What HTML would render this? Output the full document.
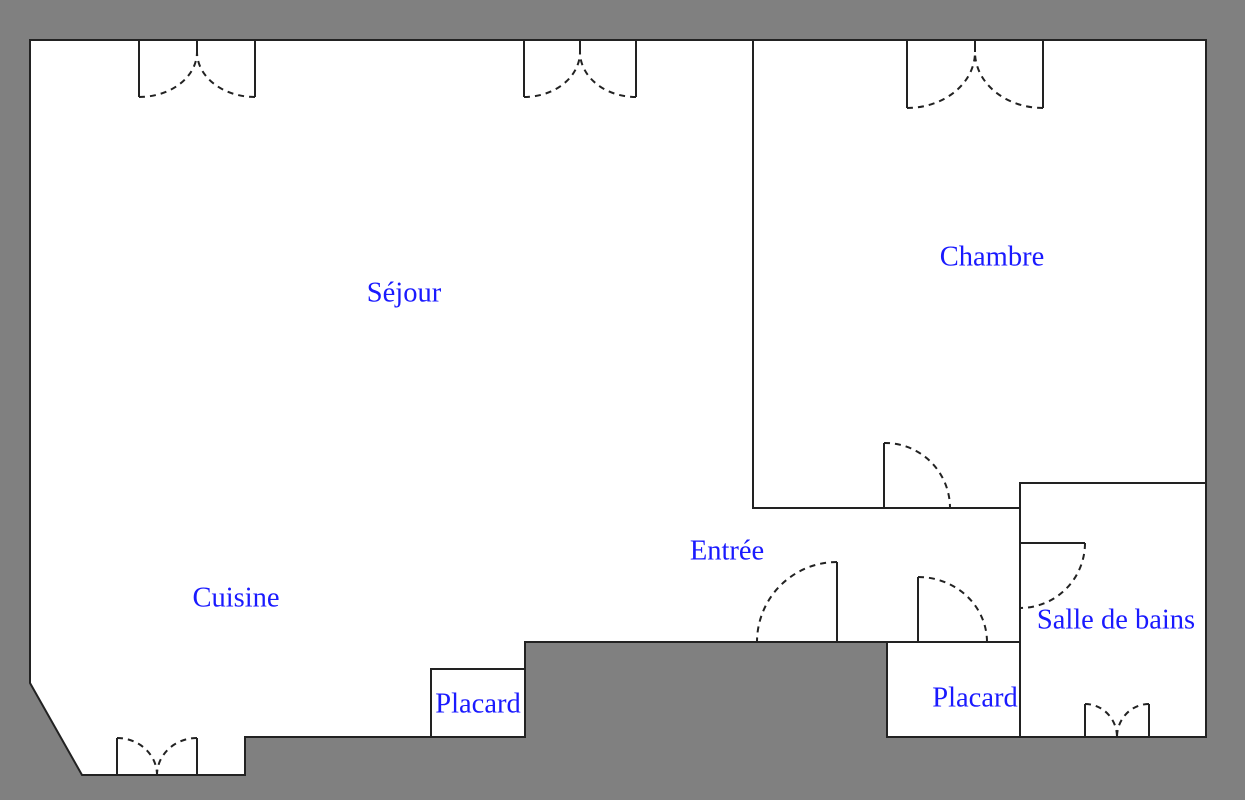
<!DOCTYPE html>
<html><head><meta charset="utf-8"><style>html,body{margin:0;padding:0;background:#808080;}svg{display:block}</style></head>
<body>
<svg width="1245" height="800" viewBox="0 0 1245 800" xmlns="http://www.w3.org/2000/svg">
<rect width="1245" height="800" fill="#808080"/>
<g stroke="#222" stroke-width="2" fill="none">
<polygon points="30,40 1206,40 1206,737 887,737 887,642 525,642 525,737 245,737 245,775 82,775 30,683" fill="#fff"/>
<polyline points="753,40 753,508 1020,508"/>
<rect x="1020" y="483" width="186" height="254"/>
<line x1="887" y1="642" x2="1020" y2="642"/>
<rect x="431" y="669" width="94" height="68"/>
<line x1="139" y1="40" x2="139" y2="97"/><line x1="255" y1="40" x2="255" y2="97"/><line x1="197" y1="40" x2="197" y2="52"/>
<line x1="524" y1="40" x2="524" y2="97"/><line x1="636" y1="40" x2="636" y2="97"/><line x1="580" y1="40" x2="580" y2="52"/>
<line x1="907" y1="40" x2="907" y2="108"/><line x1="1043" y1="40" x2="1043" y2="108"/><line x1="975" y1="40" x2="975" y2="52"/>
<line x1="884" y1="443" x2="884" y2="508"/>
<line x1="837" y1="562" x2="837" y2="642"/>
<line x1="918" y1="577" x2="918" y2="642"/>
<line x1="1020" y1="543" x2="1085" y2="543"/>
<line x1="117" y1="738" x2="117" y2="775"/><line x1="197" y1="738" x2="197" y2="775"/>
<line x1="1085" y1="704" x2="1085" y2="737"/><line x1="1149" y1="704" x2="1149" y2="737"/>
</g>
<g stroke="#222" stroke-width="2" fill="none" stroke-dasharray="6,5">
<path d="M139,97 A58,45 0 0 0 197,52"/><path d="M255,97 A58,45 0 0 1 197,52"/>
<path d="M524,97 A56,45 0 0 0 580,52"/><path d="M636,97 A56,45 0 0 1 580,52"/>
<path d="M907,108 A68,56 0 0 0 975,52"/><path d="M1043,108 A68,56 0 0 1 975,52"/>
<path d="M884,443 A65,65 0 0 1 950,508"/>
<path d="M837,562 A80,80 0 0 0 757,642"/>
<path d="M918,577 A69,65 0 0 1 987,642"/>
<path d="M1085,543 A65,65 0 0 1 1020,608"/>
<path d="M117,738 A40,37 0 0 1 157,775"/><path d="M197,738 A40,37 0 0 0 157,775"/>
<path d="M1085,704 A32,33 0 0 1 1117,737"/><path d="M1149,704 A32,33 0 0 0 1117,737"/>
</g>
<g fill="#1a1aff" font-family="Liberation Serif, serif" font-size="28.5" text-anchor="middle" dominant-baseline="central">
<text x="404" y="293">Séjour</text>
<text x="992" y="257">Chambre</text>
<text x="727" y="551">Entrée</text>
<text x="236" y="598">Cuisine</text>
<text x="478" y="704">Placard</text>
<text x="975" y="698">Placard</text>
<text x="1116" y="620">Salle de bains</text>
</g>
</svg>
</body></html>
